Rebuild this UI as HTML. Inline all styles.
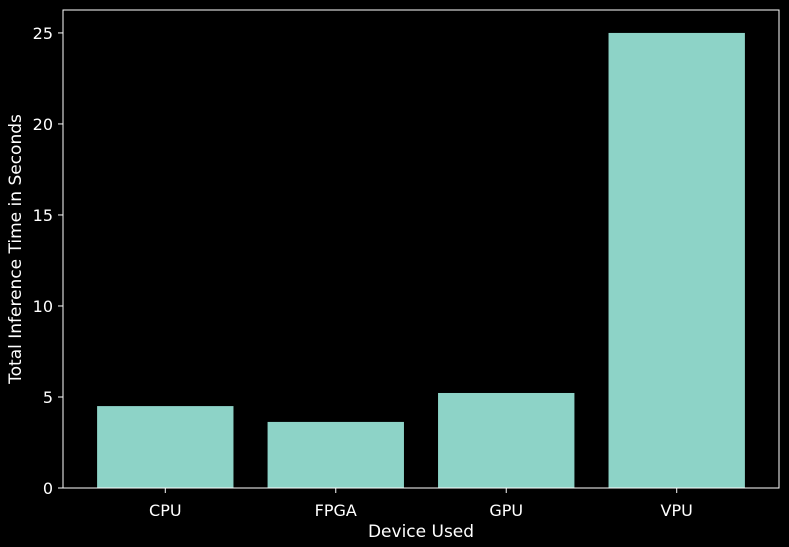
<!DOCTYPE html>
<html><head><meta charset="utf-8"><style>
html,body{margin:0;padding:0;background:#000;}
svg{display:block;font-family:"DejaVu Sans","Liberation Sans",sans-serif;}
</style></head><body>
<svg id="chart" width="789" height="547" viewBox="0 0 789 547">
<rect x="0" y="0" width="789" height="547" fill="#000"/>
<g id="plot"></g>
</svg>
<script>
const categories = ["CPU","FPGA","GPU","VPU"];
const values = [4.5, 3.63, 5.22, 25.0];
const yTicks = [0,5,10,15,20,25];
const L=63,R=779,T=10,B=488;
const xMin=-0.6,xMax=3.6,yMin=0,yMax=26.26;
const xs=v=>L+(v-xMin)/(xMax-xMin)*(R-L);
const ys=v=>B-(v-yMin)/(yMax-yMin)*(B-T);
const g=document.getElementById('plot');
const NS='http://www.w3.org/2000/svg';
function mk(t,a,txt){const e=document.createElementNS(NS,t);for(const k in a)e.setAttribute(k,a[k]);if(txt!==undefined)e.textContent=txt;g.appendChild(e);return e;}
const bw=(xs(0.4)-xs(-0.4));
values.forEach((v,i)=>{
  const r=mk('rect',{x:xs(i)-bw/2,y:ys(v),width:bw,height:ys(0)-ys(v),fill:'#8dd3c7'});
  
  
  const tk=mk('line',{x1:xs(i),x2:xs(i),y1:B,y2:B+5,stroke:'#fff','stroke-width':1});
  
  
  const t=mk('text',{x:xs(i),y:B+28,fill:'#fff','font-size':16,'text-anchor':'middle'},categories[i]);
  
  
});
yTicks.forEach(v=>{
  const tk=mk('line',{x1:L-5,x2:L,y1:ys(v),y2:ys(v),stroke:'#fff','stroke-width':1});
  
  
  const t=mk('text',{x:L-10,y:ys(v)+6,fill:'#fff','font-size':16,'text-anchor':'end'},String(v));
  
  
});
const fr=mk('rect',{x:L,y:T,width:R-L,height:B-T,fill:'none',stroke:'#fff','stroke-width':1});


const xl=mk('text',{x:(L+R)/2,y:537,fill:'#fff','font-size':17,'text-anchor':'middle'},'Device Used');


const yl=mk('text',{x:0,y:0,fill:'#fff','font-size':17,'text-anchor':'middle',transform:'translate(21,'+((T+B)/2)+') rotate(-90)'},'Total Inference Time in Seconds');


</script>
</body></html>
